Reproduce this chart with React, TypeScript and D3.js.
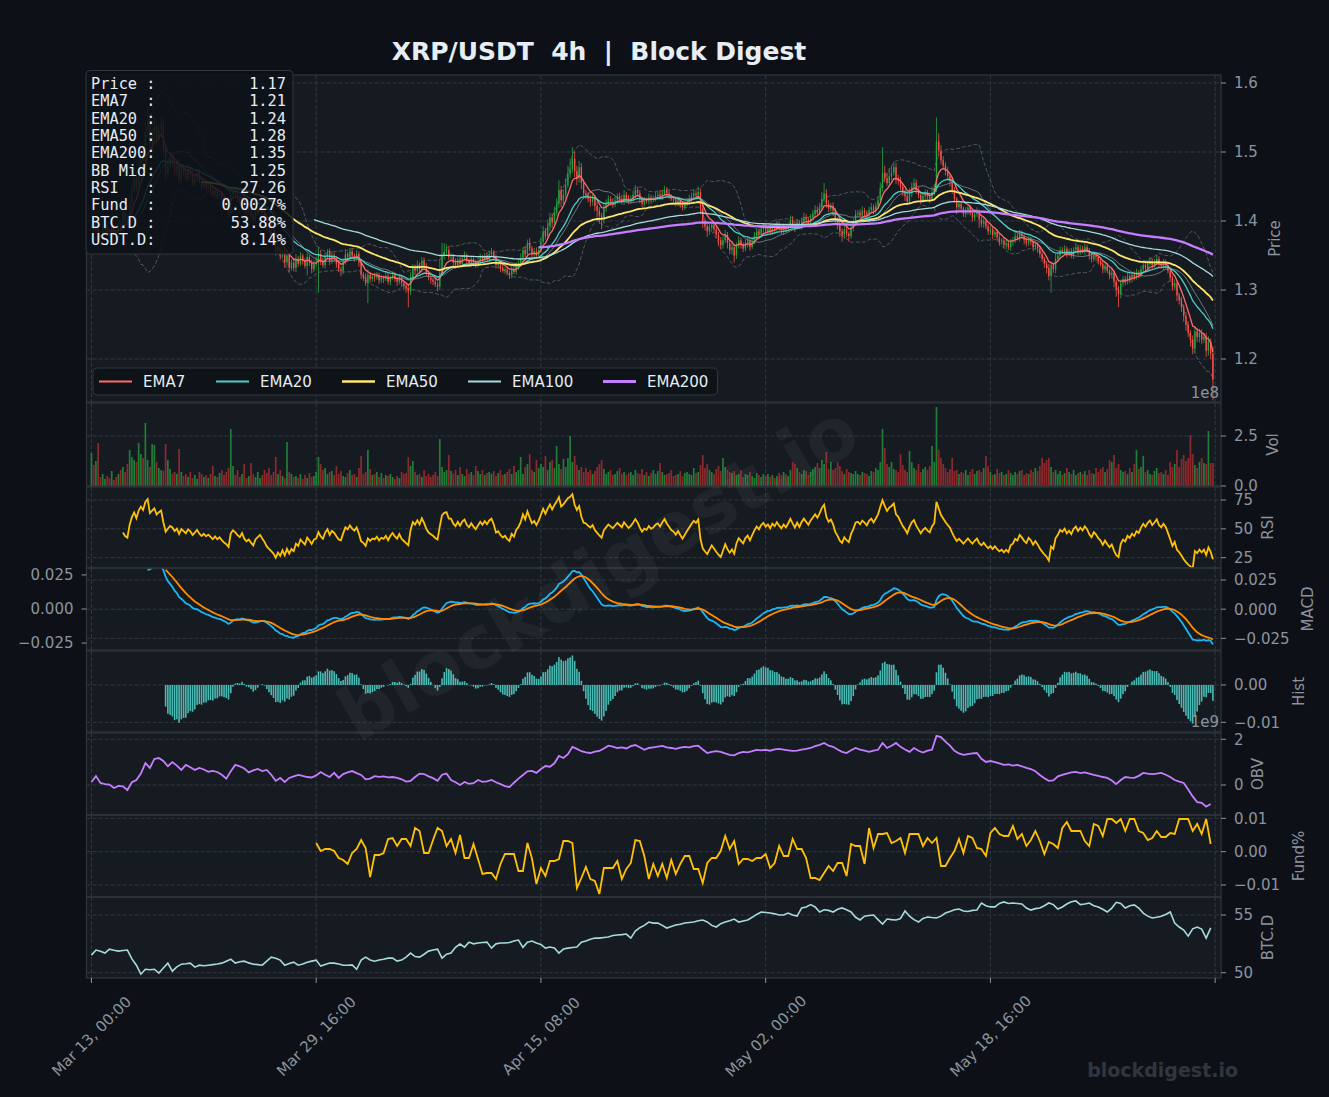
import React, { useMemo } from "react";
import * as d3 from "d3";

const W = 1329;
const H = 1097;
const SANS = "'DejaVu Sans', 'Liberation Sans', sans-serif";
const MONO = "'DejaVu Sans Mono', monospace";

// ---------- data (4h candles, Mar 13 -> Jun 03) ----------
// close prices in 1/1000 USDT
const closeMill = [
  1392,1386,1398,1380,1375,1388,1395,1384,1378,1390, 1385,1379,1393,1387,1410,1402,1398,1425,1446,1462,
  1450,1478,1495,1488,1530,1548,1512,1525,1538,1520, 1532,1541,1505,1468,1480,1492,1486,1472,1481,1460,
  1478,1470,1462,1475,1468,1455,1462,1470,1458,1450, 1456,1448,1452,1445,1438,1444,1436,1440,1432,1425,
  1420,1412,1438,1445,1440,1433,1428,1436,1422,1415, 1418,1410,1402,1412,1416,1420,1412,1404,1392,1385,
  1378,1370,1355,1362,1350,1358,1340,1350,1332,1340, 1332,1345,1338,1350,1342,1335,1348,1340,1330,1338,
  1340,1352,1342,1336,1348,1355,1342,1350,1346,1338, 1330,1328,1340,1352,1348,1356,1350,1346,1352,1340,
  1322,1318,1310,1322,1316,1320,1318,1322,1314,1318, 1316,1320,1312,1318,1322,1316,1312,1318,1310,1306,
  1302,1298,1318,1332,1328,1336,1330,1342,1335,1325, 1318,1315,1312,1308,1305,1325,1350,1356,1358,1348,
  1348,1340,1336,1344,1338,1346,1350,1342,1338,1345, 1340,1336,1342,1348,1344,1350,1346,1352,1355,1348,
  1336,1338,1332,1328,1330,1325,1322,1330,1326,1334, 1338,1345,1358,1352,1368,1360,1352,1356,1350,1358,
  1370,1385,1378,1392,1405,1398,1412,1425,1445,1430, 1438,1452,1468,1475,1490,1472,1462,1478,1455,1440,
  1438,1432,1428,1434,1422,1415,1408,1402,1418,1425, 1432,1428,1424,1430,1436,1432,1428,1438,1433,1428,
  1432,1438,1445,1440,1432,1425,1430,1428,1434,1430, 1432,1436,1438,1434,1440,1445,1440,1436,1432,1430,
  1426,1430,1425,1420,1424,1428,1432,1436,1440,1438, 1442,1418,1400,1392,1385,1390,1395,1388,1380,1372,
  1365,1372,1380,1368,1358,1362,1350,1364,1372,1366, 1360,1368,1372,1362,1370,1378,1385,1380,1388,1392,
  1386,1390,1384,1392,1388,1395,1390,1386,1392,1388, 1394,1402,1396,1390,1398,1392,1400,1406,1402,1398,
  1405,1410,1416,1412,1420,1432,1440,1425,1418,1422, 1415,1402,1395,1385,1380,1388,1382,1378,1390,1398,
  1410,1412,1408,1415,1412,1408,1416,1420,1415,1422, 1430,1448,1470,1462,1455,1465,1470,1478,1462,1458,
  1450,1442,1436,1428,1440,1450,1455,1445,1438,1430, 1436,1440,1435,1432,1442,1448,1515,1502,1488,1480,
  1472,1465,1458,1445,1432,1420,1425,1418,1410,1415, 1420,1412,1405,1410,1414,1402,1396,1400,1392,1385,
  1388,1380,1384,1376,1370,1372,1365,1368,1362,1370, 1372,1378,1375,1382,1378,1372,1368,1374,1370,1362,
  1366,1360,1352,1345,1338,1332,1320,1336,1330,1345, 1350,1358,1355,1360,1352,1356,1350,1358,1362,1355,
  1360,1356,1362,1358,1350,1345,1352,1348,1342,1338, 1330,1335,1328,1322,1325,1312,1300,1294,1310,1316,
  1312,1320,1316,1322,1318,1325,1322,1330,1336,1332, 1338,1342,1336,1340,1345,1338,1335,1340,1336,1328,
  1318,1305,1310,1292,1285,1275,1262,1250,1238,1228, 1215,1240,1232,1238,1228,1232,1212,1225,1208,1170,
];
// upper / lower wick beyond the body, 1/1000 USDT
const wickUp = [
  6,4,8,3,5,7,4,3,6,5,4,7,5,6,9,4,6,12,10,8, 10,14,9,12,15,18,8,10,12,6,9,8,7,5,6,8,4,6,5,7,
  6,4,5,8,3,5,6,4,5,3,6,4,5,3,7,4,3,5,4,3, 4,5,12,6,4,5,3,6,4,3,5,4,3,6,4,5,3,4,3,5,
  4,6,3,5,4,6,3,8,4,5,6,7,4,5,3,4,6,3,4,5, 8,10,6,5,7,4,5,6,4,3,5,4,6,7,3,5,4,3,6,4,
  5,4,6,8,4,3,5,4,3,4,3,5,4,3,5,4,3,4,3,4, 5,4,8,6,5,7,4,6,5,4,3,4,3,5,4,20,18,12,8,6,
  5,4,6,3,5,4,6,3,4,5,3,4,6,5,3,4,5,4,6,3, 4,3,5,4,3,4,3,5,4,6,5,8,4,6,5,7,4,5,6,5,
  6,8,5,10,7,6,9,8,14,6,8,10,12,15,17,10,8,9,6,5, 5,4,6,5,4,6,5,4,8,6,5,4,5,6,4,5,6,7,4,5,
  5,6,7,4,5,3,5,4,6,4,5,6,4,7,5,6,4,5,3,4, 4,5,3,4,5,4,6,5,6,4,8,5,6,4,5,6,4,3,5,4,
  5,6,7,4,5,6,4,5,6,4,3,5,4,3,5,6,5,4,5,4, 4,3,5,4,3,5,4,3,4,5,4,6,5,4,5,3,5,6,4,3,
  5,6,7,5,6,10,15,6,5,4,5,4,3,5,4,6,4,3,5,6, 6,4,5,6,4,3,5,6,4,5,6,8,37,10,8,12,10,8,6,5,
  6,5,4,6,8,6,7,5,4,5,4,6,5,4,8,6,35,12,8,6, 5,6,4,5,4,3,5,4,3,5,4,3,5,4,6,3,4,5,3,4,
  4,5,3,4,5,3,4,5,3,4,5,6,4,5,4,3,4,5,3,4, 4,3,4,5,3,4,6,5,4,8,6,5,4,5,3,4,5,4,6,4,
  5,4,6,4,3,5,4,3,4,3,5,6,4,3,5,4,3,6,5,4, 4,5,3,4,5,6,4,5,6,4,5,6,4,5,6,4,3,5,4,3,
  4,3,5,4,3,5,4,6,5,4,6,8,5,6,5,4,6,8,5,10,
];
const wickDn = [
  5,7,4,6,8,3,5,6,4,7,5,4,6,3,5,8,6,4,7,5, 8,6,10,14,7,9,16,8,10,12,8,10,12,9,7,6,8,5,7,6,
  5,6,4,5,6,4,3,5,4,6,3,5,4,6,4,3,5,4,3,5, 6,8,4,5,3,6,4,3,5,6,4,5,6,3,4,5,6,4,5,3,
  6,4,5,3,6,4,8,5,6,4,5,6,4,3,5,4,14,5,6,4, 5,44,6,4,5,3,6,4,5,6,4,8,5,3,4,6,3,5,4,6,
  6,5,4,29,5,4,6,3,5,4,6,3,4,5,3,4,6,4,5,6, 6,23,5,4,6,3,5,4,6,5,4,6,5,4,7,5,4,6,5,4,
  4,6,5,3,4,5,3,6,4,5,6,4,3,5,4,3,5,4,3,5, 5,4,6,3,5,4,6,5,3,4,5,3,4,5,3,4,6,5,4,3,
  4,3,5,4,6,8,5,4,6,10,6,5,4,6,5,8,10,6,9,8, 6,5,7,6,8,10,12,14,6,5,4,6,5,4,5,3,4,5,6,4,
  3,4,5,4,6,5,4,3,4,5,3,4,5,3,4,3,5,4,3,5, 5,4,6,5,4,3,5,4,3,4,5,8,10,6,8,5,4,6,5,8,
  6,5,4,8,6,7,10,5,4,6,5,4,6,5,3,4,5,3,4,5, 4,5,3,4,5,3,4,5,6,4,3,5,4,6,3,4,5,3,4,5,
  4,3,5,4,3,4,5,6,5,4,8,6,7,8,10,6,5,8,4,5, 4,5,3,4,5,6,4,3,5,4,3,4,5,6,4,5,6,4,8,6,
  5,6,7,5,4,5,4,6,5,6,4,5,4,6,4,5,6,8,6,5, 6,5,8,6,5,10,6,5,4,5,6,4,6,5,4,12,5,6,4,5,
  5,6,4,5,6,4,5,6,4,5,6,4,3,5,4,6,5,4,5,6, 4,6,5,4,6,8,6,24,5,6,4,5,3,4,5,3,4,5,3,4,
  4,3,5,4,6,5,4,6,5,4,6,5,4,6,5,8,10,19,6,5, 5,4,6,5,4,3,5,4,6,5,4,3,5,4,3,5,4,6,5,4,
  5,6,4,8,6,7,8,9,6,10,8,6,7,8,6,5,9,7,8,30,
];
// volume per candle, millions
const volM = [
  165,105,125,215,45,60,35,50,40,75,30,45,60,80,95,70,110,180,145,130,
  120,215,160,140,315,130,95,210,205,120,90,80,75,210,130,85,60,70,60,185,
  70,50,60,45,70,40,55,35,70,60,45,55,40,60,100,50,45,65,80,55,
  70,90,285,100,55,80,45,60,110,40,50,115,60,45,70,40,55,80,65,90,
  55,70,145,60,80,50,40,220,70,60,45,50,40,60,35,55,40,65,45,50,
  70,145,110,80,90,60,70,75,55,100,60,75,50,45,65,80,55,60,45,90,
  150,60,70,180,85,55,60,70,45,65,40,55,50,60,45,35,50,40,70,60,
  65,145,100,125,70,55,60,45,80,50,60,45,55,70,50,235,95,70,80,155,
  75,60,80,55,95,60,50,85,60,70,55,100,75,60,80,55,65,70,60,75,
  50,65,80,55,60,70,85,60,100,70,80,145,60,95,110,160,80,70,130,90,
  110,95,150,80,120,130,90,200,110,85,135,95,140,250,120,150,105,80,95,70,
  90,70,80,60,75,95,110,130,85,60,70,80,55,60,75,90,60,70,55,65,
  70,55,80,65,60,85,55,70,50,65,80,60,75,115,70,55,60,65,80,50,
  55,60,75,50,65,70,60,55,90,65,70,105,155,90,110,80,70,60,85,100,
  75,140,95,80,70,65,75,55,60,80,45,60,55,70,50,40,65,55,45,60,
  50,60,45,55,40,50,65,55,70,60,50,80,120,110,90,70,60,80,75,55,
  70,85,95,115,90,130,110,170,85,120,80,90,120,100,75,60,85,70,65,60,
  75,60,55,70,65,60,50,75,70,90,80,120,285,190,110,95,120,85,80,70,
  160,105,80,70,175,120,90,80,110,70,85,95,80,100,200,120,395,180,140,110,
  90,70,85,140,75,80,60,70,65,80,55,70,85,60,75,80,70,90,150,100,
  70,55,60,85,65,70,55,60,80,65,55,70,60,75,80,55,65,60,80,70,
  90,75,100,140,115,130,140,95,70,80,60,75,55,65,90,70,60,80,55,65,
  70,60,75,55,80,65,60,90,70,85,95,70,85,130,120,155,90,110,80,70,
  75,60,90,70,110,180,85,95,150,70,80,60,55,75,90,65,70,60,80,55,
  120,95,110,180,95,135,155,125,140,255,160,105,90,120,140,115,110,275,115,115,
];
// OBV, every 2nd candle, units of 1e7
const obvE7 = [
  13,39,9,4,2,-13,-4,-6,-22,12, 22,50,96,75,114,118,105,82,100,85,
  66,88,78,66,75,68,58,62,57,45, 28,60,88,82,72,55,64,70,61,66,
  45,18,31,13,31,38,44,40,35,33, 42,57,45,35,53,31,48,55,61,52,
  44,25,28,39,36,38,33,35,31,25, 15,18,35,50,48,38,30,18,45,50,
  22,12,0,13,5,8,22,14,16,22, 12,4,-5,-9,10,28,44,60,62,53,
  70,83,80,95,127,118,135,167,158,148, 143,140,146,149,160,172,168,162,165,160,
  170,175,165,154,162,165,168,171,165,162, 158,164,167,165,170,172,155,140,145,148,
  145,138,132,130,140,145,143,148,154,152, 154,150,156,158,155,152,149,150,155,158,
  162,170,176,184,172,167,155,145,140,152, 162,155,150,145,150,154,184,162,172,184,
  167,155,145,162,150,142,150,154,215,210, 190,172,150,138,132,135,138,140,115,101,
  105,100,95,88,90,85,88,82,75,70, 60,44,30,18,20,38,44,50,55,57,
  52,55,50,44,40,35,31,20,4,22, 35,32,31,40,53,50,48,50,53,45,
  35,22,15,9,-20,-50,-75,-78,-95,-83,
];
// funding rate (%), every 2nd candle from candle 100, units of 1e-4
const fundStart = 100;
const fundE4 = [
  26,2,8,8,2,-19,-25,-37,-4,8, 35,11,-76,-10,-10,-4,38,41,17,38,
  38,17,71,62,-4,-4,35,71,62,17, 38,-4,50,-19,-19,23,-22,-67,-64,-64,
  -82,-37,-7,-7,-7,-58,-58,26,-20,-97, -49,-73,-28,-28,-22,32,32,26,-109,-79,
  -46,-82,-88,-127,-49,-49,-49,-28,-82,-52, -34,35,32,-13,-82,-37,-73,-37,-79,-25,
  -67,-37,-13,-13,-52,-52,-94,-34,-19,-19, 2,47,8,32,-37,-22,-22,-28,-19,-19,
  -7,-49,-34,17,-13,-13,38,8,8,-19, -79,-79,-85,-64,-43,-58,-34,-34,-73,23,
  17,17,-37,71,11,53,53,56,26,32, 41,-4,53,53,53,17,41,26,41,-43,
  -43,-19,2,38,-4,47,41,11,8,-13, 56,71,53,47,47,77,38,53,17,35,
  62,32,-7,29,23,11,71,89,62,62, 62,32,17,83,77,47,98,98,86,98,
  62,98,98,62,56,35,41,62,44,44, 56,53,98,98,98,62,83,53,98,23,
];
// BTC dominance (%), every 2nd candle, hundredths
const btcdE2 = [
  5152,5196,5185,5170,5204,5195,5187,5192,5196,5120, 5065,4987,5030,5025,5030,4996,5040,5083,5013,5050,
  5074,5078,5083,5048,5065,5060,5065,5070,5075,5083, 5100,5117,5083,5095,5100,5085,5074,5070,5065,5100,
  5135,5126,5109,5065,5080,5091,5065,5075,5091,5100, 5109,5057,5070,5083,5083,5075,5065,5065,5068,5030,
  5109,5135,5110,5100,5110,5117,5126,5126,5100,5109, 5135,5170,5140,5135,5160,5187,5196,5204,5126,5160,
  5170,5220,5248,5222,5265,5250,5257,5262,5265,5213, 5250,5257,5257,5262,5275,5283,5220,5265,5274,5257,
  5245,5213,5222,5215,5170,5205,5213,5218,5222,5265, 5275,5290,5300,5300,5305,5310,5322,5326,5330,5335,
  5300,5360,5390,5410,5439,5430,5430,5410,5387,5400, 5413,5420,5430,5435,5439,5450,5457,5440,5410,5396,
  5425,5440,5450,5465,5439,5448,5457,5480,5505,5526, 5522,5517,5510,5500,5500,5517,5500,5491,5561,5570,
  5590,5570,5526,5545,5540,5526,5550,5561,5545,5526, 5480,5457,5490,5495,5500,5460,5422,5465,5460,5457,
  5470,5535,5490,5460,5439,5470,5483,5478,5474,5490, 5517,5530,5545,5552,5535,5530,5540,5543,5604,5580,
  5570,5570,5600,5613,5600,5604,5600,5596,5560,5543, 5555,5561,5580,5604,5590,5552,5570,5595,5615,5622,
  5590,5595,5604,5580,5570,5550,5526,5560,5610,5600, 5561,5580,5587,5560,5517,5490,5474,5480,5490,5505,
  5526,5430,5396,5370,5317,5380,5396,5378,5300,5388,
];

const tickIdx = [0, 100, 200, 300, 400, 500];
const tickLabels = ["Mar 13, 00:00", "Mar 29, 16:00", "Apr 15, 08:00", "May 02, 00:00", "May 18, 16:00", ""];

const infoRows = [
  ["Price :", "1.17"], ["EMA7  :", "1.21"], ["EMA20 :", "1.24"], ["EMA50 :", "1.28"],
  ["EMA200:", "1.35"], ["BB Mid:", "1.25"], ["RSI   :", "27.26"], ["Fund  :", "0.0027%"],
  ["BTC.D :", "53.88%"], ["USDT.D:", "8.14%"],
];

const emaSpecs = [
  { span: 7, label: "EMA7", color: "#ff6b6b", width: 1.3 },
  { span: 20, label: "EMA20", color: "#4ecdc4", width: 1.3 },
  { span: 50, label: "EMA50", color: "#ffe66d", width: 1.8 },
  { span: 100, label: "EMA100", color: "#a8dadc", width: 1.3 },
  { span: 200, label: "EMA200", color: "#c77dff", width: 2.3 },
];

// ---------- layout ----------
const X0 = 86.5;
const X1 = 1221;
const GRID = "#353b44";
const TXT = "#8b949e";

type Panel = {
  key: string; top: number; bottom: number; domain: [number, number];
  ticks: number[]; fmt: (v: number) => string; label: string; labelX: number;
};
const minus = (s: string) => s.replace("-", "\u2212");
const panels: Panel[] = [
  { key: "price", top: 75, bottom: 402, domain: [1.1377, 1.6116], ticks: [1.2, 1.3, 1.4, 1.5, 1.6], fmt: v => v.toFixed(1), label: "Price", labelX: 1275 },
  { key: "vol", top: 403, bottom: 486, domain: [0, 4.15], ticks: [0, 2.5], fmt: v => v.toFixed(1), label: "Vol", labelX: 1273 },
  { key: "rsi", top: 487, bottom: 568, domain: [16.07, 86.27], ticks: [25, 50, 75], fmt: v => String(v), label: "RSI", labelX: 1268 },
  { key: "macd", top: 568, bottom: 650, domain: [-0.035, 0.0353], ticks: [-0.025, 0, 0.025], fmt: v => minus(v.toFixed(3)), label: "MACD", labelX: 1308 },
  { key: "hist", top: 651, bottom: 732, domain: [-0.0126, 0.0091], ticks: [-0.01, 0], fmt: v => minus(v.toFixed(2)), label: "Hist", labelX: 1299 },
  { key: "obv", top: 733, bottom: 815, domain: [-1.313, 2.276], ticks: [0, 2], fmt: v => String(v), label: "OBV", labelX: 1258 },
  { key: "fund", top: 815, bottom: 897, domain: [-0.0136, 0.011], ticks: [-0.01, 0, 0.01], fmt: v => minus(v.toFixed(2)), label: "Fund%", labelX: 1299 },
  { key: "btcd", top: 897, bottom: 978, domain: [49.54, 56.56], ticks: [50, 55], fmt: v => String(v), label: "BTC.D", labelX: 1268 },
];
const macdLeftDomain: [number, number] = [-0.0301, 0.0301];

function ewm(src: (number | null)[], alpha: number, first: number, minP: number) {
  const out: (number | null)[] = src.map(() => null);
  let prev = 0;
  for (let i = first; i < src.length; i++) {
    const v = src[i] as number;
    prev = i === first ? v : alpha * v + (1 - alpha) * prev;
    if (i - first >= minP - 1) out[i] = prev;
  }
  return out;
}
const span = (n: number) => 2 / (n + 1);

export default function App() {
  const x = d3.scaleLinear().domain([-2.2, 502.6]).range([X0, X1]);
  const ys: Record<string, d3.ScaleLinear<number, number>> = {};
  panels.forEach(p => { ys[p.key] = d3.scaleLinear().domain(p.domain).range([p.bottom, p.top]); });
  const macdLeft = d3.scaleLinear().domain(macdLeftDomain).range([650, 568]);

  const data = useMemo(() => {
    const close = closeMill.map(v => v / 1000);
    const open = close.map((c, i) => (i === 0 ? c : close[i - 1]));
    const high = close.map((c, i) => Math.max(open[i], c) + wickUp[i] / 1000);
    const low = close.map((c, i) => Math.min(open[i], c) - wickDn[i] / 1000);
    const emas = emaSpecs.map(s => ewm(close, span(s.span), 0, s.span));
    const mid: (number | null)[] = [], up: (number | null)[] = [], lo: (number | null)[] = [];
    close.forEach((_, i) => {
      if (i < 19) { mid.push(null); up.push(null); lo.push(null); return; }
      const win = close.slice(i - 19, i + 1);
      const m = d3.mean(win) as number;
      const sd = d3.deviation(win) as number;
      mid.push(m); up.push(m + 2 * sd); lo.push(m - 2 * sd);
    });
    // Wilder RSI(14)
    const gains = close.map((c, i) => (i === 0 ? 0 : Math.max(0, c - close[i - 1])));
    const losses = close.map((c, i) => (i === 0 ? 0 : Math.max(0, close[i - 1] - c)));
    const ag = ewm(gains, 1 / 14, 1, 14), al = ewm(losses, 1 / 14, 1, 14);
    const rsi = close.map((_, i) => {
      if (ag[i] == null || al[i] == null) return null;
      const l = al[i] as number;
      return l === 0 ? 100 : 100 - 100 / (1 + (ag[i] as number) / l);
    });
    const e12 = ewm(close, span(12), 0, 1), e26 = ewm(close, span(26), 0, 1);
    const macdRaw = close.map((_, i) => (e12[i] as number) - (e26[i] as number));
    const macd = macdRaw.map((v, i) => (i < 25 ? null : v));
    const signal = ewm(macdRaw, span(9), 25, 9);
    const hist = macd.map((v, i) => (v != null && signal[i] != null ? v - (signal[i] as number) : null));
    return { close, open, high, low, emas, mid, up, lo, rsi, macd, signal, hist };
  }, []);

  const line = (vals: (number | null)[], y: d3.ScaleLinear<number, number>, idx: (i: number) => number = i => i) =>
    d3.line<number>()
      .defined(i => vals[i] != null)
      .x(i => x(idx(i)))
      .y(i => y(vals[i] as number))(d3.range(vals.length)) || "";

  const yP = ys.price;
  const bw = 1.35;
  const tickXs = tickIdx.map(i => x(i));

  return (
    <svg width={W} height={H} style={{ display: "block", position: "absolute", left: 0, top: 0, background: "#0d1117" }} fontFamily={SANS}>
      <rect x={0} y={0} width={W} height={H} fill="#0d1117" />
      <defs>
        {panels.map(p => (
          <clipPath id={`clip-${p.key}`} key={p.key}>
            <rect x={X0} y={p.top} width={X1 - X0} height={p.bottom - p.top} />
          </clipPath>
        ))}
      </defs>

      {/* panel backgrounds + grid */}
      {panels.map(p => (
        <g key={`bg-${p.key}`}>
          <rect x={X0} y={p.top} width={X1 - X0} height={p.bottom - p.top} fill="#161b22" />
          {tickXs.map((tx, k) => (
            <line key={k} x1={tx} x2={tx} y1={p.top} y2={p.bottom} stroke={GRID} strokeDasharray="4,2" strokeWidth={0.9} />
          ))}
          {p.ticks.map(t => (
            <line key={t} x1={X0} x2={X1} y1={ys[p.key](t)} y2={ys[p.key](t)} stroke={GRID} strokeDasharray="4,2" strokeWidth={0.9} />
          ))}
        </g>
      ))}

      {/* price panel */}
      <g clipPath="url(#clip-price)">
        <path d={line(data.up, yP)} fill="none" stroke="#8b949e" strokeOpacity={0.5} strokeWidth={1} strokeDasharray="4,2" />
        <path d={line(data.lo, yP)} fill="none" stroke="#8b949e" strokeOpacity={0.5} strokeWidth={1} strokeDasharray="4,2" />
        {data.close.map((c, i) => {
          const o = data.open[i];
          const col = c >= o ? "#26a641" : "#f85149";
          const yt = yP(Math.max(o, c)), yb = yP(Math.min(o, c));
          return (
            <g key={i}>
              <line x1={x(i)} x2={x(i)} y1={yP(data.high[i])} y2={yP(data.low[i])} stroke={col} strokeWidth={0.8} />
              <rect x={x(i) - bw / 2} y={yt} width={bw} height={Math.max(0.7, yb - yt)} fill={col} />
            </g>
          );
        })}
        <path d={line(data.mid, yP)} fill="none" stroke="#8b949e" strokeOpacity={0.75} strokeWidth={1} />
        {emaSpecs.map((s, k) => (
          <path key={s.label} d={line(data.emas[k], yP)} fill="none" stroke={s.color} strokeWidth={s.width} />
        ))}
      </g>

      {/* volume */}
      <g clipPath="url(#clip-vol)">
        {volM.map((v, i) => {
          const up = data.close[i] >= data.open[i];
          const yv = ys.vol(v / 100);
          return (
            <rect key={i} x={x(i) - 0.85} y={yv} width={1.7} height={ys.vol(0) - yv}
              fill={up ? "#26a641" : "#da3633"} fillOpacity={up ? 0.7 : 0.6} />
          );
        })}
      </g>

      {/* RSI */}
      <g clipPath="url(#clip-rsi)">
        <path d={line(data.rsi, ys.rsi)} fill="none" stroke="#ffc107" strokeWidth={1.8} />
      </g>

      {/* MACD */}
      <g clipPath="url(#clip-macd)">
        <path d={line(data.macd, ys.macd)} fill="none" stroke="#1cb5f5" strokeWidth={1.8} />
        <path d={line(data.signal, ys.macd)} fill="none" stroke="#ff8c00" strokeWidth={1.8} />
      </g>

      {/* Histogram */}
      <g clipPath="url(#clip-hist)">
        {data.hist.map((v, i) => {
          if (v == null) return null;
          const y0 = ys.hist(0), y1 = ys.hist(v);
          return <rect key={i} x={x(i) - 0.8} y={Math.min(y0, y1)} width={1.6} height={Math.abs(y1 - y0)} fill="#4ecdc4" fillOpacity={0.9} />;
        })}
      </g>

      {/* OBV */}
      <g clipPath="url(#clip-obv)">
        <path d={line(obvE7.map(v => v / 100), ys.obv, j => j * 2)} fill="none" stroke="#c77dff" strokeWidth={1.8} />
      </g>

      {/* Funding */}
      <g clipPath="url(#clip-fund)">
        <path d={line(fundE4.map(v => v / 10000), ys.fund, k => fundStart + k * 2)} fill="none" stroke="#ffc107" strokeWidth={1.8} />
      </g>

      {/* BTC dominance */}
      <g clipPath="url(#clip-btcd)">
        <path d={line(btcdE2.map(v => v / 100), ys.btcd, j => j * 2)} fill="none" stroke="#a8dadc" strokeWidth={1.6} />
      </g>

      {/* frames, ticks, labels */}
      {panels.map(p => (
        <g key={`ax-${p.key}`}>
          <rect x={X0} y={p.top} width={X1 - X0} height={p.bottom - p.top} fill="none" stroke="#30363d" strokeWidth={1.2} />
          {p.ticks.map(t => (
            <g key={t}>
              <line x1={X1} x2={X1 + 5} y1={ys[p.key](t)} y2={ys[p.key](t)} stroke={TXT} strokeWidth={1} />
              <text x={X1 + 13} y={ys[p.key](t)} dy="0.36em" fontSize={15} fill={TXT}>{p.fmt(t)}</text>
            </g>
          ))}
          <text transform={`translate(${p.labelX},${(p.top + p.bottom) / 2}) rotate(-90)`} textAnchor="middle" dy="0.36em" fontSize={15} fill={TXT}>{p.label}</text>
        </g>
      ))}
      {/* left MACD axis */}
      {panels[3].ticks.map(t => (
        <g key={`ml-${t}`}>
          <line x1={X0 - 5} x2={X0} y1={macdLeft(t)} y2={macdLeft(t)} stroke={TXT} strokeWidth={1} />
          <text x={X0 - 13} y={macdLeft(t)} dy="0.36em" textAnchor="end" fontSize={15} fill={TXT}>{minus(t.toFixed(3))}</text>
        </g>
      ))}
      <text x={1219} y={398} textAnchor="end" fontSize={15} fill={TXT}>1e8</text>
      <text x={1219} y={727} textAnchor="end" fontSize={15} fill={TXT}>1e9</text>

      {/* x axis */}
      {tickIdx.map((ti, k) => (
        <g key={`xt-${ti}`}>
          <line x1={x(ti)} x2={x(ti)} y1={978} y2={983} stroke={TXT} strokeWidth={1} />
          {tickLabels[k] && (
            <text transform={`translate(${x(ti)},1036) rotate(-45)`} textAnchor="middle" dy="0.36em" fontSize={15} fill={TXT}>{tickLabels[k]}</text>
          )}
        </g>
      ))}

      {/* legend */}
      <g>
        <rect x={93} y={368} width={624.5} height={27} rx={4} fill="#0d1117" fillOpacity={0.8} stroke="#30363d" />
        {(() => {
          let cx = 99;
          return emaSpecs.map(s => {
            const lx = cx;
            const tw = s.label.length <= 4 ? 41 : s.label.length === 5 ? 50 : 59;
            cx += 33 + 11 + tw + 32;
            return (
              <g key={s.label}>
                <line x1={lx} x2={lx + 33} y1={381.5} y2={381.5} stroke={s.color} strokeWidth={Math.max(2, s.width + 0.5)} />
                <text x={lx + 44} y={381.5} dy="0.36em" fontSize={15} fill="#e6edf3">{s.label}</text>
              </g>
            );
          });
        })()}
      </g>

      {/* info box */}
      <g>
        <rect x={86} y={70.5} width={207} height={183.5} rx={4} fill="#0d1117" fillOpacity={0.85} stroke="#30363d" />
        {infoRows.map((r, k) => (
          <g key={r[0]} fontFamily={MONO} fontSize={15.3} fill="#e6edf3">
            <text x={91} y={89 + k * 17.33} style={{ whiteSpace: "pre" }}>{r[0]}</text>
            <text x={286} y={89 + k * 17.33} textAnchor="end">{r[1]}</text>
          </g>
        ))}
      </g>

      {/* title and watermarks */}
      <text x={599} y={60} textAnchor="middle" fontSize={25} fontWeight="bold" fill="#e6edf3" style={{ whiteSpace: "pre" }}>XRP/USDT  4h  |  Block Digest</text>
      <text transform="translate(598,572) rotate(-30.5)" textAnchor="middle" dy="0.35em" fontSize={74} fontWeight="bold" fill="#ffffff" fillOpacity={0.045}>blockdigest.io</text>
      <text x={1238} y={1077} textAnchor="end" fontSize={19} fontWeight="bold" fill="#30363d">blockdigest.io</text>
    </svg>
  );
}
